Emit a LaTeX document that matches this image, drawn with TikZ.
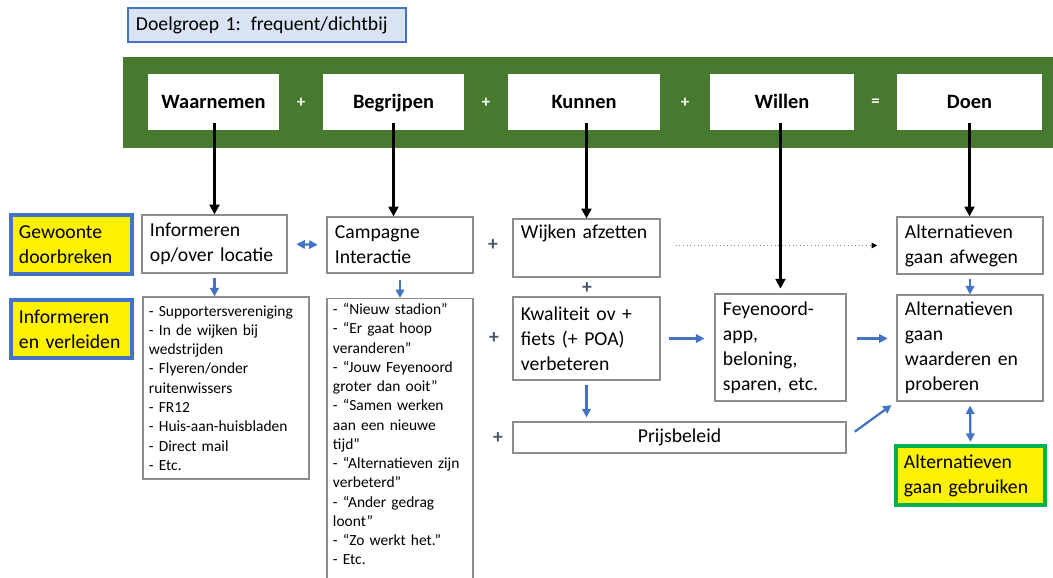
\documentclass[tikz,border=0pt]{standalone}
\usepackage{fontspec}
\setmainfont{Carlito}
\usetikzlibrary{arrows.meta}
\definecolor{bandgreen}{HTML}{477A2F}
\definecolor{accblue}{HTML}{4472C4}
\definecolor{lightblue}{HTML}{DAE3F3}
\definecolor{boxgray}{HTML}{8C8C8C}
\definecolor{plusgray}{HTML}{44546A}
\definecolor{brightgreen}{HTML}{00B050}

\begin{document}
\begin{tikzpicture}[x=0.025cm, y=-0.025cm,
  head/.style={fill=white, minimum height=1.4cm, text height=1em, text depth=0.1em, font=\fontsize{14.5}{16}\selectfont\bfseries},
  cell/.style={draw=boxgray, line width=0.8pt, fill=white, align=left, inner xsep=0.2cm, inner ysep=0.05cm, font=\fontsize{14}{17.7}\selectfont},
  lst/.style={draw=boxgray, line width=0.8pt, fill=white, align=left, inner xsep=0.15cm, inner ysep=0.12cm, font=\fontsize{11}{13.7}\selectfont},
  tag/.style={draw=accblue, line width=2.3pt, fill=yellow, align=left, inner xsep=0.2cm, inner ysep=0.05cm, font=\fontsize{14}{17.7}\selectfont},
  plus/.style={text=plusgray, font=\fontsize{14}{14}\selectfont\bfseries},
  op/.style={text=white, font=\fontsize{12}{12}\selectfont\bfseries},
  down/.style={line width=1.8pt, -{Triangle[length=7pt,width=7pt]}},
  blu/.style={accblue, line width=1.6pt, -{Triangle[length=6pt,width=6pt]}},
  blu2/.style={accblue, line width=1.6pt, {Triangle[length=6pt,width=6pt]}-{Triangle[length=6pt,width=6pt]}}]
  \useasboundingbox (0,0) rectangle (1053,578);

  \node[draw=accblue, line width=1.5pt, fill=lightblue, text width=6.55cm, minimum height=0.85cm, align=left, inner xsep=0.2cm, font=\fontsize{14}{16}\selectfont] (title) at (267,25) {Doelgroep 1: frequent/dichtbij};

  \fill[bandgreen] (123,57) rectangle (1053,148);
  \node[head, minimum width=3.275cm] (waar) at (213.5,102) {Waarnemen};
  \node[head, minimum width=3.525cm] (begr) at (393.5,102) {Begrijpen};
  \node[head, minimum width=3.8cm] (kunn) at (584,102) {Kunnen};
  \node[head, minimum width=3.6cm] (will) at (782,102) {Willen};
  \node[head, minimum width=3.625cm] (doen) at (969.5,102) {Doen};
  \node[op] (op1) at (301,103) {+};
  \node[op] (op2) at (486,103) {+};
  \node[op] (op3) at (685,103) {+};
  \node[op] (op4) at (875.5,103) {=};

  \node[tag, text width=2.625cm, minimum height=1.475cm] (habit) at (71.5,244.5) {Gewoonte\\doorbreken};
  \node[tag, text width=2.625cm, minimum height=1.45cm] (seduce) at (71.5,329) {Informeren\\en verleiden};

  \node[cell, text width=3.225cm, minimum height=1.45cm] (info) at (214.5,244) {Informeren\\op/over locatie};
  \node[cell, text width=3.25cm, minimum height=1.4cm] (camp) at (400,245) {Campagne\\Interactie};
  \node[lst, text width=3.85cm, minimum height=4.55cm] (list1) at (226,388) {- Supportersvereniging\\- In de wijken bij\\wedstrijden\\- Flyeren/onder\\ruitenwissers\\- FR12\\- Huis-aan-huisbladen\\- Direct mail\\- Etc.};
  \node[lst, text width=3.35cm, anchor=north] (list2) at (400,298) {- “Nieuw stadion”\\- “Er gaat hoop\\veranderen”\\- “Jouw Feyenoord\\groter dan ooit”\\- “Samen werken\\aan een nieuwe\\tijd”\\- “Alternatieven zijn\\verbeterd”\\- “Ander gedrag\\loont”\\- “Zo werkt het.”\\- Etc.\\\mbox{}};

  \node[cell, text width=3.275cm, minimum height=1.45cm] (wijk) at (586.5,248) {Wijken afzetten\\\strut};
  \node[cell, text width=3.275cm, minimum height=2.075cm] (kwal) at (586.5,338.5) {Kwaliteit ov +\\fiets (+ POA)\\verbeteren};
  \node[cell, minimum width=8.325cm, minimum height=0.775cm, align=center] (prij) at (679.5,437.5) {Prijsbeleid};
  \node[cell, text width=2.875cm, minimum height=2.675cm] (feyen) at (780.5,347.5) {Feyenoord-\\app,\\beloning,\\sparen, etc.};

  \node[cell, text width=3.25cm, minimum height=1.425cm] (afw) at (970,245.5) {Alternatieven\\gaan afwegen};
  \node[cell, text width=3.25cm, minimum height=2.65cm] (waard) at (970,348) {Alternatieven\\gaan\\waarderen en\\proberen};
  \node[draw=brightgreen, line width=3pt, fill=yellow, align=left, text width=3.325cm, minimum height=1.475cm, inner xsep=0.2cm, inner ysep=0.05cm, font=\fontsize{14}{17.7}\selectfont] (gebr) at (970.5,475.5) {Alternatieven\\gaan gebruiken};

  \node[plus] (p1) at (493,245) {+};
  \node[plus] (p2) at (587,288) {+};
  \node[plus] (p3) at (494,338) {+};
  \node[plus] (p4) at (498,438) {+};

  \draw[down] ([yshift=0.18cm]info.north |- waar.south) -- (info.north);
  \draw[down] ([yshift=0.18cm]begr.south) -- (begr.south |- camp.north);
  \draw[down] ([yshift=0.18cm]wijk.north |- kunn.south) -- (wijk.north);
  \draw[down, shorten >=0.12cm] ([yshift=0.18cm]feyen.north |- will.south) -- (feyen.north);
  \draw[down] ([yshift=0.18cm]doen.south) -- (doen.south |- afw.north);

  \draw[blu2, shorten <=0.22cm, shorten >=0.22cm] (info.east) -- (camp.west);
  \draw[blu, shorten <=0.12cm] (info.south) -- (info.south |- list1.north);
  \draw[blu, shorten <=0.15cm] (camp.south) -- (camp.south |- list2.north);
  \draw[blu, shorten <=0.1cm, shorten >=0.1cm] (kwal.south) -- (kwal.south |- prij.north);
  \draw[blu, shorten <=0.22cm, shorten >=0.25cm] (kwal.east) -- (feyen.west |- kwal.east);
  \draw[blu, shorten <=0.25cm, shorten >=0.22cm] (feyen.east |- kwal.east) -- (waard.west |- kwal.east);
  \draw[blu, shorten <=0.25cm, shorten >=0.15cm] (prij.east) -- (waard.south west);
  \draw[blu, shorten <=0.1cm] (afw.south) -- (waard.north);
  \draw[blu2, shorten <=0.1cm, shorten >=0.05cm] (waard.south) -- (gebr.north);
  \draw[gray, dotted, line width=0.6pt, -{Triangle[length=4pt,width=4pt,color=black]}, shorten <=0.38cm, shorten >=0.48cm] (wijk.east |- afw.west) -- (afw.west);
\end{tikzpicture}
\end{document}
